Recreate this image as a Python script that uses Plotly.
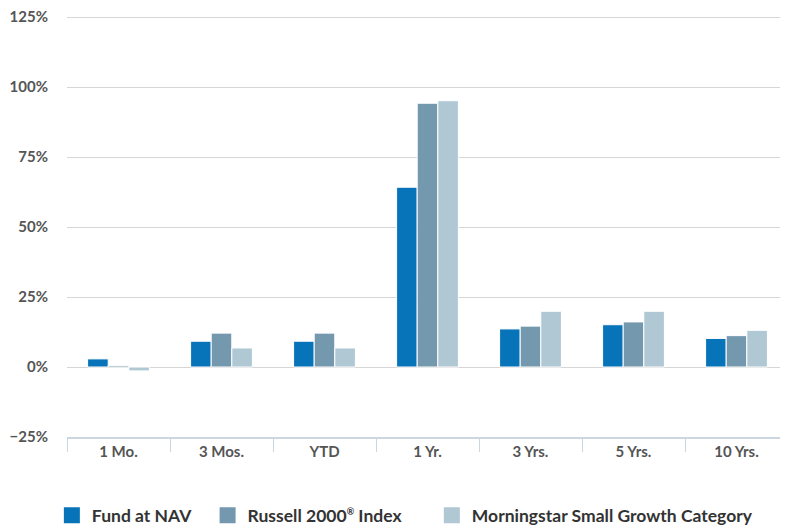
import plotly.graph_objects as go

periods = ["1 Mo.", "3 Mos.", "YTD", "1 Yr.", "3 Yrs.", "5 Yrs.", "10 Yrs."]
fund_nav = [2.9, 9.2, 9.2, 64.2, 13.6, 15.1, 10.2]
russell_2000 = [0.5, 12.1, 12.1, 94.2, 14.6, 16.1, 11.2]
morningstar = [-1.4, 6.8, 6.8, 95.1, 19.9, 19.9, 13.1]

series = [
    ("Fund at NAV", fund_nav, "#0773b8"),
    ("Russell 2000<sup><span style='font-size:9px'>®</span></sup> Index", russell_2000, "#7499ae"),
    ("Morningstar Small Growth Category", morningstar, "#b0c8d4"),
]

font = dict(family="Lato, Open Sans, sans-serif", weight=700)

fig = go.Figure()
for name, vals, color in series:
    fig.add_trace(
        go.Bar(
            name=name,
            x=periods,
            y=vals,
            marker=dict(color=color, line=dict(color="#ffffff", width=1)),
            showlegend=False,
        )
    )

# one legend per entry so the spacing can follow the original
legend_x = [-0.021, 0.195, 0.506]
for i, (name, vals, color) in enumerate(series):
    key = "legend" if i == 0 else f"legend{i + 1}"
    fig.add_trace(
        go.Scatter(
            name=name,
            x=[None],
            y=[None],
            mode="markers",
            marker=dict(symbol="square", size=18, color=color),
            legend=key,
        )
    )
    fig.update_layout(
        {
            key: dict(
                orientation="h",
                x=legend_x[i],
                xanchor="left",
                y=-0.186,
                yanchor="middle",
                itemsizing="trace",
                font=dict(**font, size=17.5, color="#333333"),
                itemclick=False,
                bgcolor="rgba(0,0,0,0)",
            )
        }
    )

# page has an 8px body margin, so the figure is drawn 8px smaller
fig.update_layout(
    width=780,
    height=518,
    margin=dict(l=59, r=0, t=8, b=89, autoexpand=False),
    plot_bgcolor="#ffffff",
    paper_bgcolor="#ffffff",
    barmode="group",
    bargap=0.4,
    bargroupgap=0,
    font=dict(**font, size=15, color="#555555"),
)

fig.update_xaxes(
    automargin=False,
    showline=True,
    linecolor="#ccd6e0",
    linewidth=2,
    ticks="outside",
    tickson="boundaries",
    ticklen=13,
    tickcolor="#ccd6e0",
    tickfont=dict(**font, size=15, color="#555555"),
    showgrid=False,
)

fig.update_yaxes(
    automargin=False,
    range=[-25, 125.36],
    dtick=25,
    ticksuffix="%",
    ticklabeloverflow="allow",
    showgrid=True,
    gridcolor="#d6d6d6",
    gridwidth=1,
    zeroline=True,
    zerolinecolor="#d6d6d6",
    zerolinewidth=1,
    showline=False,
    ticks="",
    ticklabelstandoff=18,
    tickfont=dict(**font, size=15, color="#555555"),
)

fig.write_html("out.html")
